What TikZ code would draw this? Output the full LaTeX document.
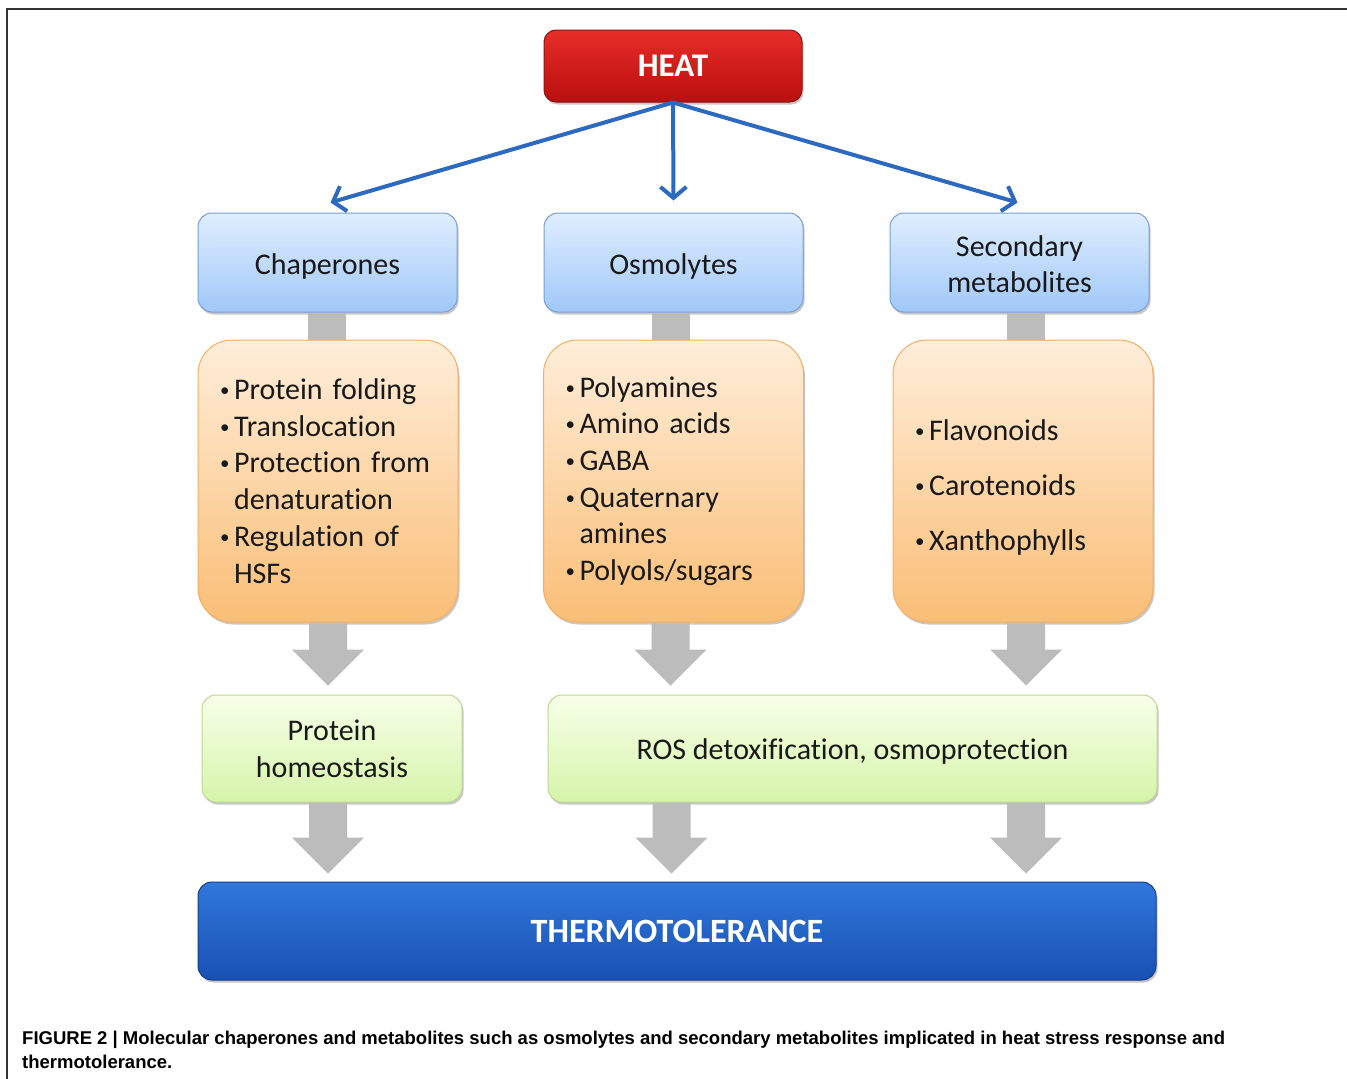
\documentclass[tikz,border=0pt]{standalone}
\usepackage{fontspec}
\setmainfont{Carlito}[Ligatures=NoCommon]
\newfontfamily\capfont{Liberation Sans}
\usetikzlibrary{arrows.meta,calc,shadows}
\definecolor{bTop}{RGB}{224,238,255}
\definecolor{bBot}{RGB}{160,200,248}
\definecolor{bBorder}{RGB}{120,160,215}
\definecolor{oTop}{RGB}{255,238,218}
\definecolor{oBot}{RGB}{250,190,118}
\definecolor{oBorder}{RGB}{245,175,100}
\definecolor{gTop}{RGB}{247,255,232}
\definecolor{gBot}{RGB}{214,244,170}
\definecolor{gBorder}{RGB}{190,215,150}
\definecolor{rTop}{RGB}{232,45,40}
\definecolor{rBot}{RGB}{185,15,15}
\definecolor{rBorder}{RGB}{140,20,20}
\definecolor{tTop}{RGB}{48,120,218}
\definecolor{tBot}{RGB}{25,80,180}
\definecolor{tBorder}{RGB}{20,60,140}
\definecolor{arrBlue}{RGB}{45,105,190}
\definecolor{arrGray}{RGB}{188,188,188}
\definecolor{txt}{RGB}{25,25,25}
\definecolor{frameCol}{RGB}{50,50,50}
\newcommand\bul{\makebox[14pt][l]{\raisebox{3pt}{\fontsize{19}{19}\selectfont\textbullet}}}
\newcommand\ind{\hspace*{14pt}}
\newcommand\garrow[2]{%
  \fill[arrGray] let \p1=(#1), \p2=(#2) in
  (\x1-19pt,\y1) -- (\x1-19pt,\y2+36pt) -- (\x1-36pt,\y2+36pt) -- (\x1,\y2)
  -- (\x1+36pt,\y2+36pt) -- (\x1+19pt,\y2+36pt) -- (\x1+19pt,\y1) -- cycle;}
\begin{document}
\begin{tikzpicture}[x=1pt,y=-1pt,
  box/.style={draw, line width=1pt, rounded corners=14pt, inner sep=0pt, align=center, text=txt,
    drop shadow={shadow xshift=1.5pt,shadow yshift=-2.5pt,opacity=0.22,fill=black}},
  bodyfont/.style={font=\fontsize{30}{36.7}\selectfont},
  bluebox/.style={box, bodyfont, draw=bBorder, top color=bTop, bottom color=bBot,
    minimum width=259pt, minimum height=99pt},
  orangebox/.style={box, bodyfont, rounded corners=34pt, draw=oBorder, top color=oTop, bottom color=oBot,
    minimum height=282pt, text width=216pt, inner xsep=22pt, align=left},
  greenbox/.style={box, bodyfont, draw=gBorder, top color=gTop, bottom color=gBot,
    minimum width=260pt, minimum height=107pt},
  bluearrow/.style={draw=arrBlue, line width=4pt, -{Straight Barb[length=11pt,width=26pt]}},
  capstyle/.style={anchor=base west, inner sep=0pt, font=\capfont\bfseries\fontsize{18.5}{24}\selectfont}
]
\useasboundingbox (0,0) rectangle (1347,1079);
\fill[white] (0,0) rectangle (1347,1079);
\draw[frameCol, line width=2pt] (7,1079) -- (7,9) -- (1347,9);

% top
\node[box, draw=rBorder, top color=rTop, bottom color=rBot, minimum width=258pt, minimum height=72pt,
  rounded corners=12pt, text=white, font=\fontsize{33}{40}\selectfont\bfseries] (heat) at (673,66) {HEAT};

% blue boxes
\node[bluebox] (b1) at (327.5,262.5) {\rule{0pt}{29pt}Chaperones};
\node[bluebox] (b2) at (673.5,262.5) {\rule{0pt}{29pt}Osmolytes};
\node[bluebox] (b3) at (1019.5,262.5) {\rule{0pt}{24pt}Secondary\\metabolites};

% orange boxes
\node[orangebox] (o1) at (328,481) {\bul Protein folding\\
\bul Translocation\\
\bul Protection from\\
\ind denaturation\\
\bul Regulation of\\
\ind HSFs};
\node[orangebox] (o2) at (673.5,481) {\bul Polyamines\\
\bul Amino acids\\
\bul GABA\\
\bul Quaternary\\
\ind amines\\
\bul Polyols/sugars};
\node[orangebox] (o3) at (1023,481) {\rule{0pt}{34pt}\bul Flavonoids\\[18pt]
\bul Carotenoids\\[18pt]
\bul Xanthophylls};

% green boxes
\node[greenbox] (g1) at (332,748.5) {Protein\\homeostasis};
\node[greenbox, minimum width=609pt] (g2) at (852.5,748.5) {\rule{0pt}{27pt}ROS detoxification, osmoprotection};

% thermotolerance
\node[box, draw=tBorder, top color=tTop, bottom color=tBot, minimum width=958pt, minimum height=98pt,
  text=white, font=\fontsize{34}{40}\selectfont\bfseries] (th) at (677,931) {THERMOTOLERANCE};

% blue arrows
\draw[bluearrow] (heat.south) -- ($(b1.north)+(3,-10)$);
\draw[bluearrow] (heat.south) -- ($(b2.north)+(0,-12)$);
\draw[bluearrow] (heat.south) -- ($(b3.north)+(-2,-10)$);

% gray connectors blue -> orange
\fill[arrGray] ($(o1.north)+(-20,0)$) rectangle ($(o1.north |- b1.south)+(18,0)$);
\fill[arrGray] ($(o2.north)+(-22,0)$) rectangle ($(o2.north |- b2.south)+(16,0)$);
\fill[arrGray] ($(o3.north)+(-16,0)$) rectangle ($(o3.north |- b3.south)+(22,0)$);

% gray block arrows
\garrow{o1.south}{$(o1.south |- g1.north)+(0,-9)$}
\garrow{$(o2.south)+(-3,0)$}{$(o2.south |- g2.north)+(0,-9)$}
\garrow{$(o3.south)+(3,0)$}{$(o3.south |- g2.north)+(0,-9)$}
\garrow{o1.south |- g1.south}{$(o1.south |- th.north)+(0,-8)$}
\garrow{$(o2.south |- g2.south)+(-2,0)$}{$(o2.south |- th.north)+(0,-8)$}
\garrow{$(o3.south |- g2.south)+(3,0)$}{$(o3.south |- th.north)+(0,-8)$}

% caption
\node[capstyle] (cap1) at (22,1044) {FIGURE 2 | Molecular chaperones and metabolites such as osmolytes and secondary metabolites implicated in heat stress response and};
\node[capstyle] (cap2) at (22,1068) {thermotolerance.};
\end{tikzpicture}
\end{document}
